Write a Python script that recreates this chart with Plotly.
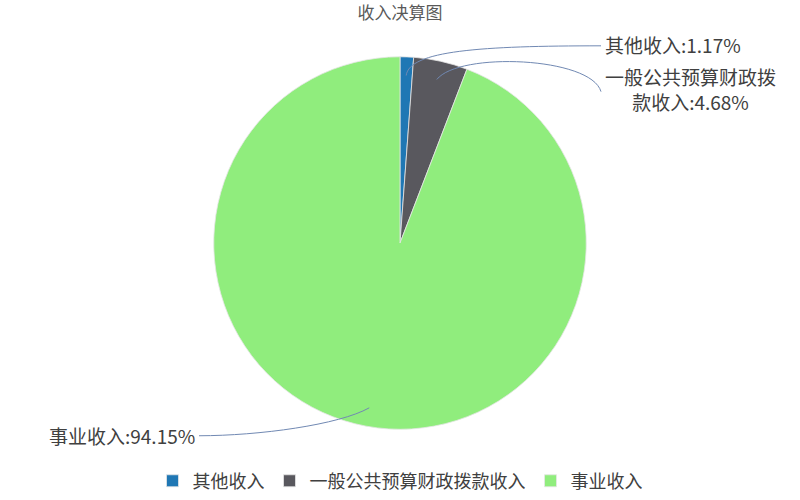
import numpy as np
import plotly.graph_objects as go

# =========================
# Dados
# =========================
categorias = ["其他收入", "一般公共预算财政拨款收入", "事业收入"]
percentuais = [1.17, 4.68, 94.15]
cores = ["#1f77b4", "#59585e", "#90ed7d"]

# posição dos rótulos externos (px) e do fim da linha-guia
rotulo_pos = [(603, 45, "left"), (603, 89, "left"), (197, 437, "right")]
guia_fim = [(601, 46), (601, 92), (199, 437.5)]
# alças da curva bezier: (dx1, dy1) a partir do início, (dx2, dy2) a partir do fim
guia_alcas = [((3, -25), (-120, 0)), ((22, -28), (-10, -35)), ((-30, 17), (60, 0))]

W, H = 800, 500
CX, CY, R = 400, 244, 187
FONTE = "Noto Sans CJK SC"


def px(x, y):
    return x / W, 1 - y / H


def quebrar(txt, n=9):
    return txt if len(txt) <= n + 6 else txt[:n] + "<br>" + txt[n:]


fig = go.Figure(go.Pie(
    labels=categorias,
    values=percentuais,
    sort=False,
    direction="clockwise",
    rotation=0,
    marker=dict(colors=cores, line=dict(color="#e6e6e6", width=0.8)),
    textinfo="none",
    hoverinfo="label+percent",
    domain=dict(x=[0, 1], y=[1 - (CY + R) / H, 1 - (CY - R) / H]),
))

# =========================
# Rótulos e linhas-guia
# =========================
total = sum(percentuais)
acum = np.cumsum([0] + percentuais[:-1])
meios = (acum + np.array(percentuais) / 2) / total * 2 * np.pi

shapes = []
annotations = []
for i, nome in enumerate(categorias):
    x0 = CX + 0.9 * R * np.sin(meios[i])
    y0 = CY - 0.9 * R * np.cos(meios[i])
    x3, y3 = guia_fim[i]
    (a1, b1), (a2, b2) = guia_alcas[i]
    pts = [px(x0, y0), px(x0 + a1, y0 + b1), px(x3 + a2, y3 + b2), px(x3, y3)]
    path = "M {},{} C {},{} {},{} {},{}".format(*[v for p in pts for v in p])
    shapes.append(dict(type="path", path=path, xref="paper", yref="paper",
                       line=dict(color="#7189b3", width=1)))

    lx, ly, anc = rotulo_pos[i]
    ax, ay = px(lx, ly)
    annotations.append(dict(
        text=quebrar(f"{nome}:{percentuais[i]:.2f}%"),
        x=ax, y=ay, xref="paper", yref="paper",
        xanchor=anc, yanchor="middle", align="center",
        showarrow=False, font=dict(family=FONTE, size=19, color="#404040"),
    ))

fig.update_layout(
    width=W, height=H,
    margin=dict(l=0, r=0, t=0, b=0),
    paper_bgcolor="white",
    title=dict(text="收入决算图", x=0.5, xanchor="center", y=1 - 13 / H, yanchor="middle",
               font=dict(family=FONTE, size=17, color="#595959")),
    legend=dict(orientation="h", x=0.5, xanchor="center", y=1 - 483 / H, yanchor="middle",
                font=dict(family=FONTE, size=18, color="#404040"), itemwidth=30),
    shapes=shapes,
    annotations=annotations,
    font=dict(family=FONTE),
)

# sem margem na página, para a figura começar no canto
fig.write_html("out.html", config={"displayModeBar": False},
               post_script="document.body.style.margin='0';")
